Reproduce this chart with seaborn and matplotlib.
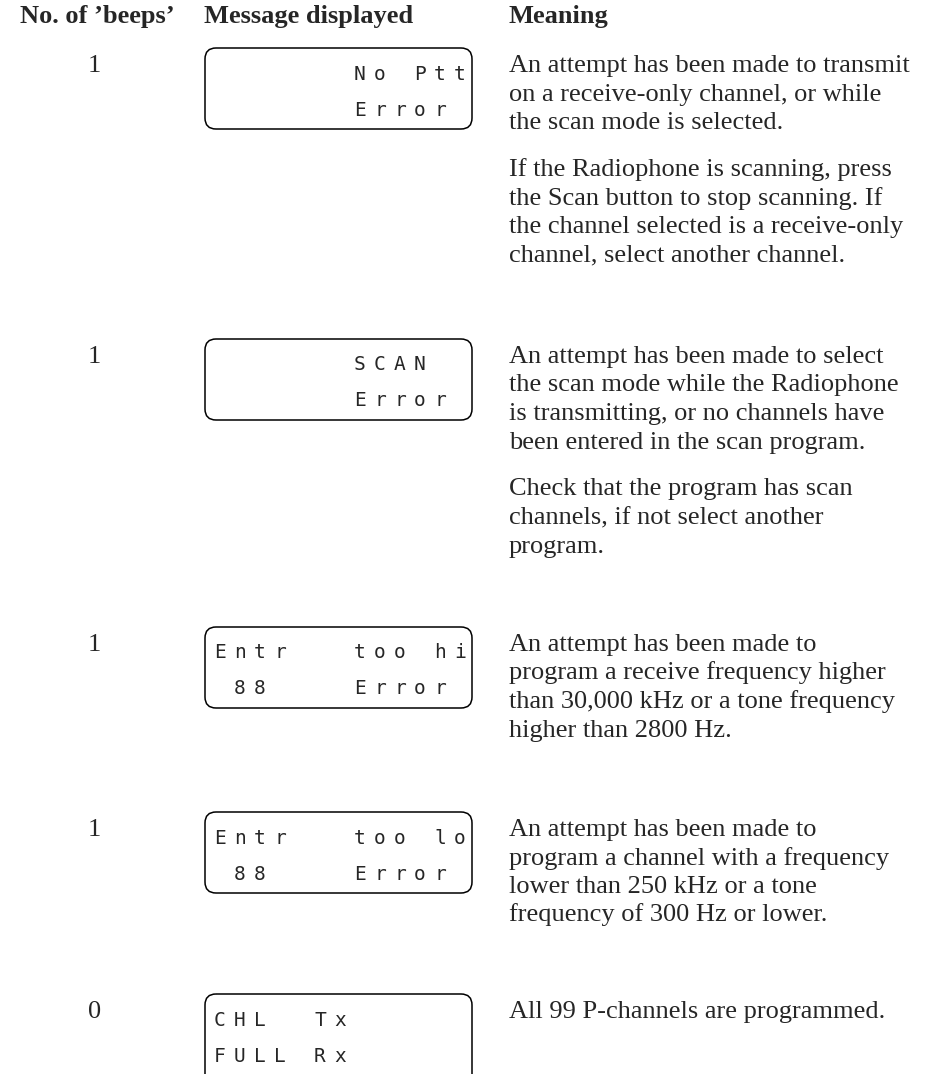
import matplotlib
matplotlib.use("Agg")
import matplotlib.pyplot as plt
from matplotlib.patches import FancyBboxPatch
import seaborn as sns

# Table content
headers = ["No. of \u2019beeps\u2019", "Message displayed", "Meaning"]
beeps = [1, 1, 1, 1, 0]

# LCD display text, two lines per message (13 character cells)
lcd_top = ["       No Ptt", "       SCAN", "Entr   too hi", "Entr   too lo", "CHL  Tx"]
lcd_bottom = ["       Error", "       Error", " 88    Error", " 88    Error", "FULL Rx"]

# Meaning column: list of paragraphs, each a list of printed lines
meanings = [
    [["An attempt has been made to transmit",
      "on a receive-only channel, or while",
      "the scan mode is selected."],
     ["If the Radiophone is scanning, press",
      "the Scan button to stop scanning. If",
      "the channel selected is a receive-only",
      "channel, select another channel."]],
    [["An attempt has been made to select",
      "the scan mode while the Radiophone",
      "is transmitting, or no channels have",
      "been entered in the scan program."],
     ["Check that the program has scan",
      "channels, if not select another",
      "program."]],
    [["An attempt has been made to",
      "program a receive frequency higher",
      "than 30,000 kHz or a tone frequency",
      "higher than 2800 Hz."]],
    [["An attempt has been made to",
      "program a channel with a frequency",
      "lower than 250 kHz or a tone",
      "frequency of 300 Hz or lower."]],
    [["All 99 P-channels are programmed."]],
]

# Layout (pixels, figure is 937 x 1074)
W, H = 937, 1074
row_y = [64, 355, 643, 828, 1010]
line_step = 28.5
para_step = 47
x_beep, x_box, x_box_r, x_text = 88, 205, 472, 509
box_h = [81, 81, 81, 81, 120]

sns.set_theme(style="white")
plt.rcParams["font.family"] = ["Liberation Serif", "DejaVu Serif"]

fig = plt.figure(figsize=(W / 100, H / 100), dpi=100)
ax = fig.add_axes([0, 0, 1, 1])
ax.set_xlim(0, W)
ax.set_ylim(H, 0)
ax.axis("off")

fs = 19
for x, h in zip([20, 204, x_text], headers):
    ax.text(x, 23, h, fontsize=fs, fontweight="bold", ha="left", va="baseline")

for i, y in enumerate(row_y):
    base = y + 8
    ax.text(x_beep, base, str(beeps[i]), fontsize=fs, ha="left", va="baseline")

    # LCD box
    top = y - 16
    box = FancyBboxPatch((x_box, top), x_box_r - x_box, box_h[i],
                         boxstyle="round,pad=0,rounding_size=11",
                         fill=False, edgecolor="black", linewidth=1.1)
    ax.add_patch(box)
    for line, dy in [(lcd_top[i], 26), (lcd_bottom[i], 62)]:
        for c, ch in enumerate(line):
            if ch != " ":
                ax.text(213 + c * 20 + 7, top + dy, ch, fontsize=14,
                        family="DejaVu Sans Mono", ha="center", va="center")

    # Meaning text
    yy = base
    for p, para in enumerate(meanings[i]):
        if p > 0:
            yy += para_step - line_step
        for line in para:
            ax.text(x_text, yy, line, fontsize=fs, ha="left", va="baseline")
            yy += line_step

fig.savefig("out.png", dpi=100, facecolor="white")
